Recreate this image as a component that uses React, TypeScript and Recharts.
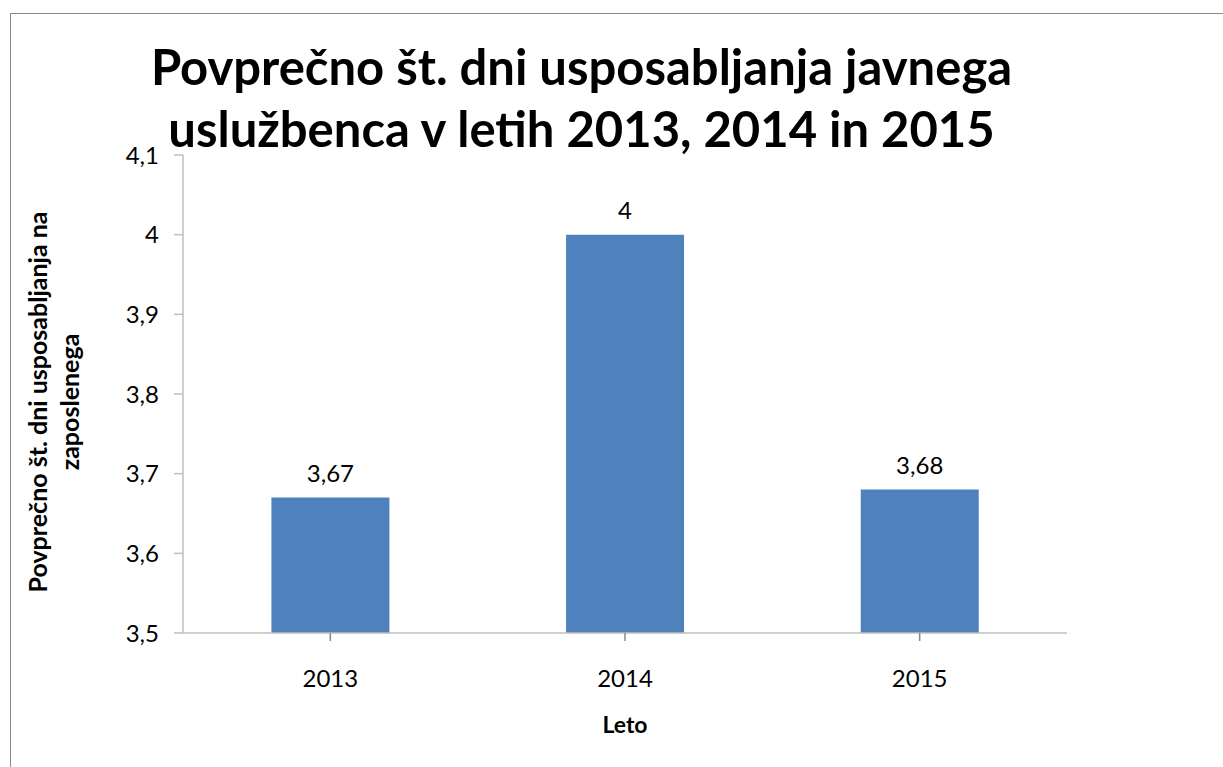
import React from "react";
import { BarChart, Bar, XAxis, YAxis, LabelList } from "recharts";

const years = ["2013", "2014", "2015"];
const values = [3.67, 4, 3.68];
const yTicks = [3.5, 3.6, 3.7, 3.8, 3.9, 4.0, 4.1];

const data = years.map((y, i) => ({ year: y, value: values[i] }));

const FONT = "Lato, 'Open Sans', sans-serif";
const fmt = (v: number) => String(Math.round(v * 100) / 100).replace(".", ",");

const YLabel = () => {
  const cy = 402;
  return (
    <text
      transform={`translate(${47}, ${cy}) rotate(-90)`}
      textAnchor="middle"
      fontFamily={FONT}
      fontWeight="bold"
      fontSize={25}
      fill="#000"
    >
      <tspan x={0} dy={0}>Povprečno št. dni usposabljanja na</tspan>
      <tspan x={0} dy={32}>zaposlenega</tspan>
    </text>
  );
};

export default function App() {
  return (
    <div style={{ position: "absolute", left: 0, top: 0, width: 1223, height: 767, background: "#fff", overflow: "hidden" }}>
      <div
        style={{
          position: "absolute",
          left: 10,
          top: 13,
          width: 1230,
          height: 800,
          border: "1px solid #8a8a8a",
          boxSizing: "border-box",
        }}
      />
      <div
        style={{
          position: "absolute",
          left: 0,
          top: 35,
          width: 1163,
          textAlign: "center",
          fontFamily: FONT,
          fontWeight: "bold",
          fontSize: 49,
          lineHeight: "62px",
          color: "#000",
          whiteSpace: "nowrap",
        }}
      >
        Povprečno št. dni usposabljanja javnega
        <br />
        uslužbenca v letih 2013, 2014 in 2015
      </div>
      <div style={{ position: "absolute", left: 0, top: 0 }}>
        <BarChart
          width={1223}
          height={767}
          data={data}
          margin={{ top: 155, right: 156, bottom: 0, left: 0 }}
          barCategoryGap="30%"
        >
          <XAxis
            dataKey="year"
            height={134}
            stroke="#bfbfbf"
            strokeWidth={1.5}
            tickSize={8}
            tickLine={{ stroke: "#888" }}
            tick={{ fill: "#000", fontSize: 24, fontFamily: FONT }}
            tickMargin={29}
            interval={0}
            label={{
              value: "Leto",
              position: "insideBottom",
              offset: 34,
              fill: "#000",
              fontFamily: FONT,
              fontWeight: "bold",
              fontSize: 23,
            }}
          />
          <YAxis
            width={183}
            domain={[3.5, 4.1]}
            ticks={yTicks}
            tickFormatter={fmt}
            interval={0}
            stroke="#bfbfbf"
            strokeWidth={1.5}
            tickSize={9}
            tickLine={{ stroke: "#bfbfbf" }}
            tick={{ fill: "#000", fontSize: 24, fontFamily: FONT }}
            tickMargin={15}
            allowDataOverflow
            label={{ content: YLabel }}
          />
          <Bar dataKey="value" fill="#4F81BD" isAnimationActive={false}>
            <LabelList
              dataKey="value"
              position="top"
              offset={16}
              formatter={(v: any) => fmt(Number(v))}
              fill="#000"
              fontSize={24}
              fontFamily={FONT}
            />
          </Bar>
        </BarChart>
      </div>
    </div>
  );
}
